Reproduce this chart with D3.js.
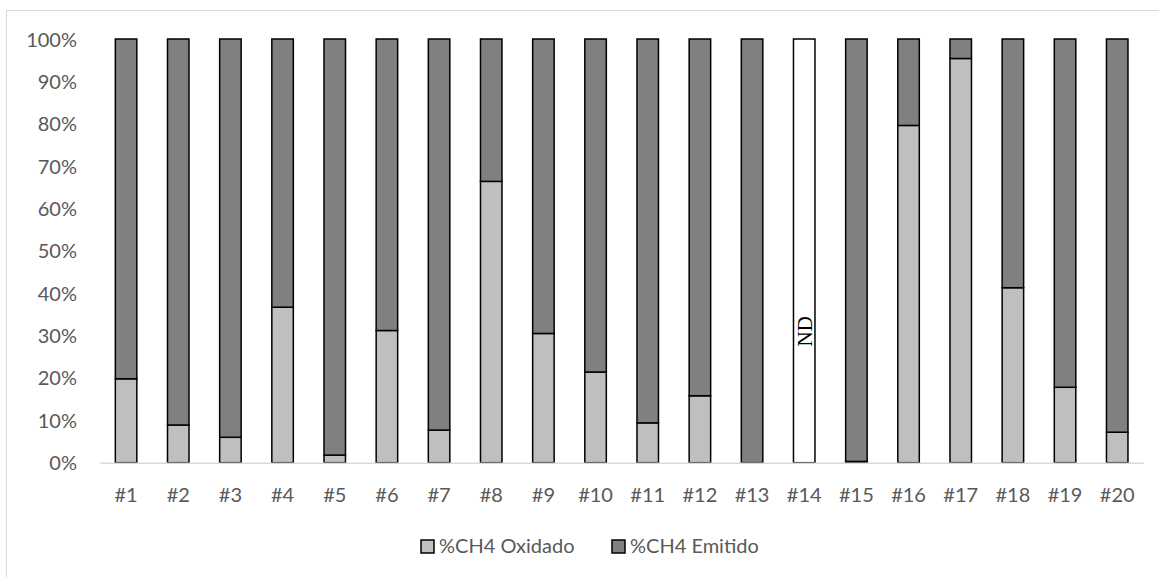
<!DOCTYPE html>
<html>
<head>
<meta charset="utf-8">
<script src="https://cdn.jsdelivr.net/npm/d3@7"></script>
<style>
  html, body { margin: 0; padding: 0; background: #ffffff; }
  svg { display: block; }
</style>
</head>
<body>
<svg id="chart" width="1159" height="577"></svg>
<script>
const categories = ["#1","#2","#3","#4","#5","#6","#7","#8","#9","#10","#11","#12","#13","#14","#15","#16","#17","#18","#19","#20"];
const oxidado = [19.8, 8.9, 6.0, 36.7, 1.8, 31.2, 7.7, 66.4, 30.5, 21.4, 9.4, 15.8, 0, null, 0.3, 79.6, 95.4, 41.3, 17.8, 7.2];
const emitido = [80.2, 91.1, 94.0, 63.3, 98.2, 68.8, 92.3, 33.6, 69.5, 78.6, 90.6, 84.2, 100, null, 99.7, 20.4, 4.6, 58.7, 82.2, 92.8];
const yTicks = [0, 10, 20, 30, 40, 50, 60, 70, 80, 90, 100];
const yTickLabels = ["0%","10%","20%","30%","40%","50%","60%","70%","80%","90%","100%"];
const seriesNames = ["%CH4 Oxidado", "%CH4 Emitido"];
const seriesColors = ["#bfbfbf", "#808080"];
const ndLabel = "ND";

const svg = d3.select("#chart");
const font = "Lato, 'Open Sans', sans-serif";
const textColor = "#595959";

// outer frame
svg.append("rect")
  .attr("x", 6.5).attr("y", 10.5)
  .attr("width", 1200).attr("height", 600)
  .attr("fill", "none").attr("stroke", "#d9d9d9").attr("stroke-width", 1);

const x = d3.scaleBand().domain(categories).range([100, 1143.3])
  .paddingInner(0.588).paddingOuter(0.294);
const y = d3.scaleLinear().domain([0, 100]).range([462.7, 39]);

// y axis labels
const yAxis = d3.axisLeft(y).tickValues(yTicks)
  .tickFormat((d, i) => yTickLabels[i]).tickSize(0).tickPadding(0);
const gy = svg.append("g").attr("transform", "translate(77,0)").call(yAxis);
gy.select(".domain").remove();
gy.selectAll("text").attr("font-family", font).attr("font-size", 20)
  .attr("fill", textColor).attr("dy", "0.35em");

// bars
const rows = categories.map((c, i) => ({ c, ox: oxidado[i], em: emitido[i] }));
const g = svg.append("g");
rows.forEach(r => {
  if (r.ox === null) {
    g.append("rect")
      .attr("x", x(r.c)).attr("width", x.bandwidth())
      .attr("y", y(100)).attr("height", y(0) - y(100))
      .attr("fill", "#ffffff").attr("stroke", "#000").attr("stroke-width", 1.5);
    g.append("text")
      .attr("transform", `translate(${x(r.c) + x.bandwidth() / 2},${y(31)}) rotate(-90)`)
      .attr("text-anchor", "middle").attr("dy", "0.35em")
      .attr("font-family", "'Liberation Serif', 'Times New Roman', serif")
      .attr("font-size", 21).attr("fill", "#000").text(ndLabel);
    return;
  }
  if (r.ox > 0) {
    g.append("rect")
      .attr("x", x(r.c)).attr("width", x.bandwidth())
      .attr("y", y(r.ox)).attr("height", y(0) - y(r.ox))
      .attr("fill", seriesColors[0]).attr("stroke", "#000").attr("stroke-width", 1.5);
  }
  g.append("rect")
    .attr("x", x(r.c)).attr("width", x.bandwidth())
    .attr("y", y(r.ox + r.em)).attr("height", y(r.ox) - y(r.ox + r.em))
    .attr("fill", seriesColors[1]).attr("stroke", "#000").attr("stroke-width", 1.5);
});

// x axis
const xAxis = d3.axisBottom(x).tickSize(0).tickPadding(0);
const gx = svg.append("g").attr("transform", `translate(0,${y(0)})`).call(xAxis);
gx.select(".domain").attr("stroke", "#d9d9d9").attr("stroke-width", 1.5);
gx.selectAll("text").attr("font-family", font).attr("font-size", 20)
  .attr("fill", textColor).attr("dy", null).attr("y", 39);

// legend
const legendX = [421, 612];
const leg = svg.append("g");
seriesNames.forEach((name, i) => {
  leg.append("rect")
    .attr("x", legendX[i]).attr("y", 540).attr("width", 13).attr("height", 13)
    .attr("fill", seriesColors[i]).attr("stroke", "#000").attr("stroke-width", 1.5);
  leg.append("text")
    .attr("x", legendX[i] + 18).attr("y", 553)
    .attr("font-family", font).attr("font-size", 20).attr("fill", textColor)
    .text(name);
});
</script>
</body>
</html>
